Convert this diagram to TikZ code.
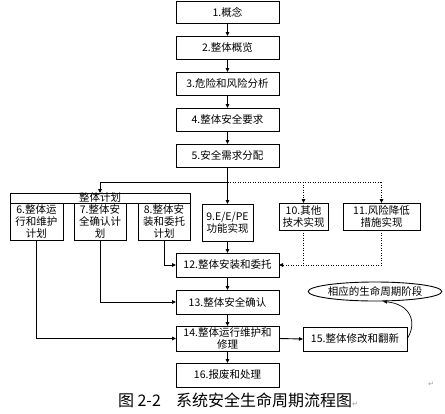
\documentclass[tikz,border=0pt]{standalone}
\usepackage{fontspec}
\setmainfont{Noto Sans CJK SC}
\newfontfamily\symfont{DejaVu Sans}
\usetikzlibrary{arrows.meta,shapes.geometric}
\begin{document}
\begin{tikzpicture}[x=1pt,y=-1pt,
  every node/.style={inner sep=0pt, outer sep=0pt},
  box/.style={draw, line width=0.9pt, align=center, font=\fontsize{10.5}{12.5}\selectfont, minimum width=103pt, minimum height=23pt},
  sbox/.style={box, font=\fontsize{10.5}{12}\selectfont},
  conn/.style={line width=0.9pt, -{Triangle[length=4pt,width=3.5pt]}},
  plain/.style={line width=0.9pt},
  dots/.style={line width=0.9pt, dash pattern=on 1pt off 1.5pt},
  dotarr/.style={dots, -{Triangle[length=4pt,width=3.5pt]}},
  retmark/.style={font=\symfont\fontsize{7}{8}\selectfont, text=black!40}
]
\useasboundingbox (0,0) rectangle (445,413);
% main column
\node[box, minimum height=22pt] (b1) at (227.5,12) {1.概念};
\node[box] (b2) at (227.5,47.5) {2.整体概览};
\node[box] (b3) at (227.5,83.5) {3.危险和风险分析};
\node[box] (b4) at (227.5,119.5) {4.整体安全要求};
\node[box] (b5) at (227.5,155.5) {5.安全需求分配};
% planning group
\node[sbox, minimum width=180pt, minimum height=10pt] (plan) at (100,198) {整体计划};
\node[sbox, minimum width=53pt, minimum height=37pt] (b6) at (36.5,221.5) {6.整体运\\行和维护\\计划};
\node[sbox, minimum width=52pt, minimum height=37pt] (b7) at (100,221.5) {7.整体安\\全确认计\\划};
\node[sbox, minimum width=52pt, minimum height=37pt] (b8) at (164,221.5) {8.整体安\\装和委托\\计划};
% realisation
\node[sbox, minimum width=51pt, minimum height=37pt] (b9) at (227.5,222.5) {9.E/E/PE\\功能实现};
\node[sbox, minimum width=49pt, minimum height=27pt] (b10) at (303.5,216.5) {10.其他\\技术实现};
\node[sbox, minimum width=77pt, minimum height=27pt] (b11) at (381.5,216.5) {11.风险降低\\措施实现};
% lower column
\node[box, minimum height=24pt] (b12) at (227.5,265) {12.整体安装和委托};
\node[box, minimum height=24pt] (b13) at (227.5,302) {13.整体安全确认};
\node[sbox, minimum height=25pt] (b14) at (227.5,338.5) {14.整体运行维护和\\修理};
\node[box, minimum width=104pt, minimum height=24pt] (b15) at (355,339) {15.整体修改和翻新};
\node[box, minimum height=24pt] (b16) at (227.5,375) {16.报废和处理};
\node[draw, ellipse, line width=0.9pt, minimum width=107pt, minimum height=19pt, font=\fontsize{10.5}{12}\selectfont] (ell) at (375,291.5) {相应的生命周期阶段};
% coordinates
\coordinate (j) at (227.5,182);
\coordinate (jl) at (100,182);
\coordinate (jr) at (381.5,182);
% arrows main
\draw[conn] (b1) -- (b2);
\draw[conn] (b2) -- (b3);
\draw[conn] (b3) -- (b4);
\draw[conn] (b4) -- (b5);
\draw[plain] (b5.south) -- (j);
\draw[plain] (j) -- (jl);
\draw[conn] (jl) -- (plan.north);
\draw[conn] (j) -- (b9.north);
\draw[dots] (j) -- (jr);
\draw[dotarr] (jr) -- (b11.north);
\draw[dotarr] (b10.north |- j) -- (b10.north);
\draw[conn] (b6.south) |- (b14.west);
\draw[conn] (b7.south) |- (b13.west);
\draw[conn] (b8.south) |- (b12.west);
\draw[conn] (b9.south) -- (b12.north);
\draw[dotarr] (b11.south) |- (b12.east);
\draw[dots] (b10.south) -- (b10.south |- b12.east);
\draw[conn] (b12) -- (b13);
\draw[conn] (b13) -- (b14);
\draw[conn] (b14) -- (b16);
\draw[conn] (b14.east) -- (b15.west);
\draw[line width=0.7pt, -{Triangle[length=4pt,width=3.5pt]}] (b15.east) .. controls (418,322) and (410,304) .. (383,301.5);
% caption
\node[anchor=base west, font=\fontsize{16}{18}\selectfont] (cap1) at (118,406) {图 2-2};
\node[anchor=base west, font=\fontsize{16}{18}\selectfont] (cap2) at (176,406) {系统安全生命周期流程图};
\node[anchor=base west, retmark] (r1) at (cap2.base east) {↵};
\node[retmark] (r2) at (431,384) {↵};
\end{tikzpicture}
\end{document}
